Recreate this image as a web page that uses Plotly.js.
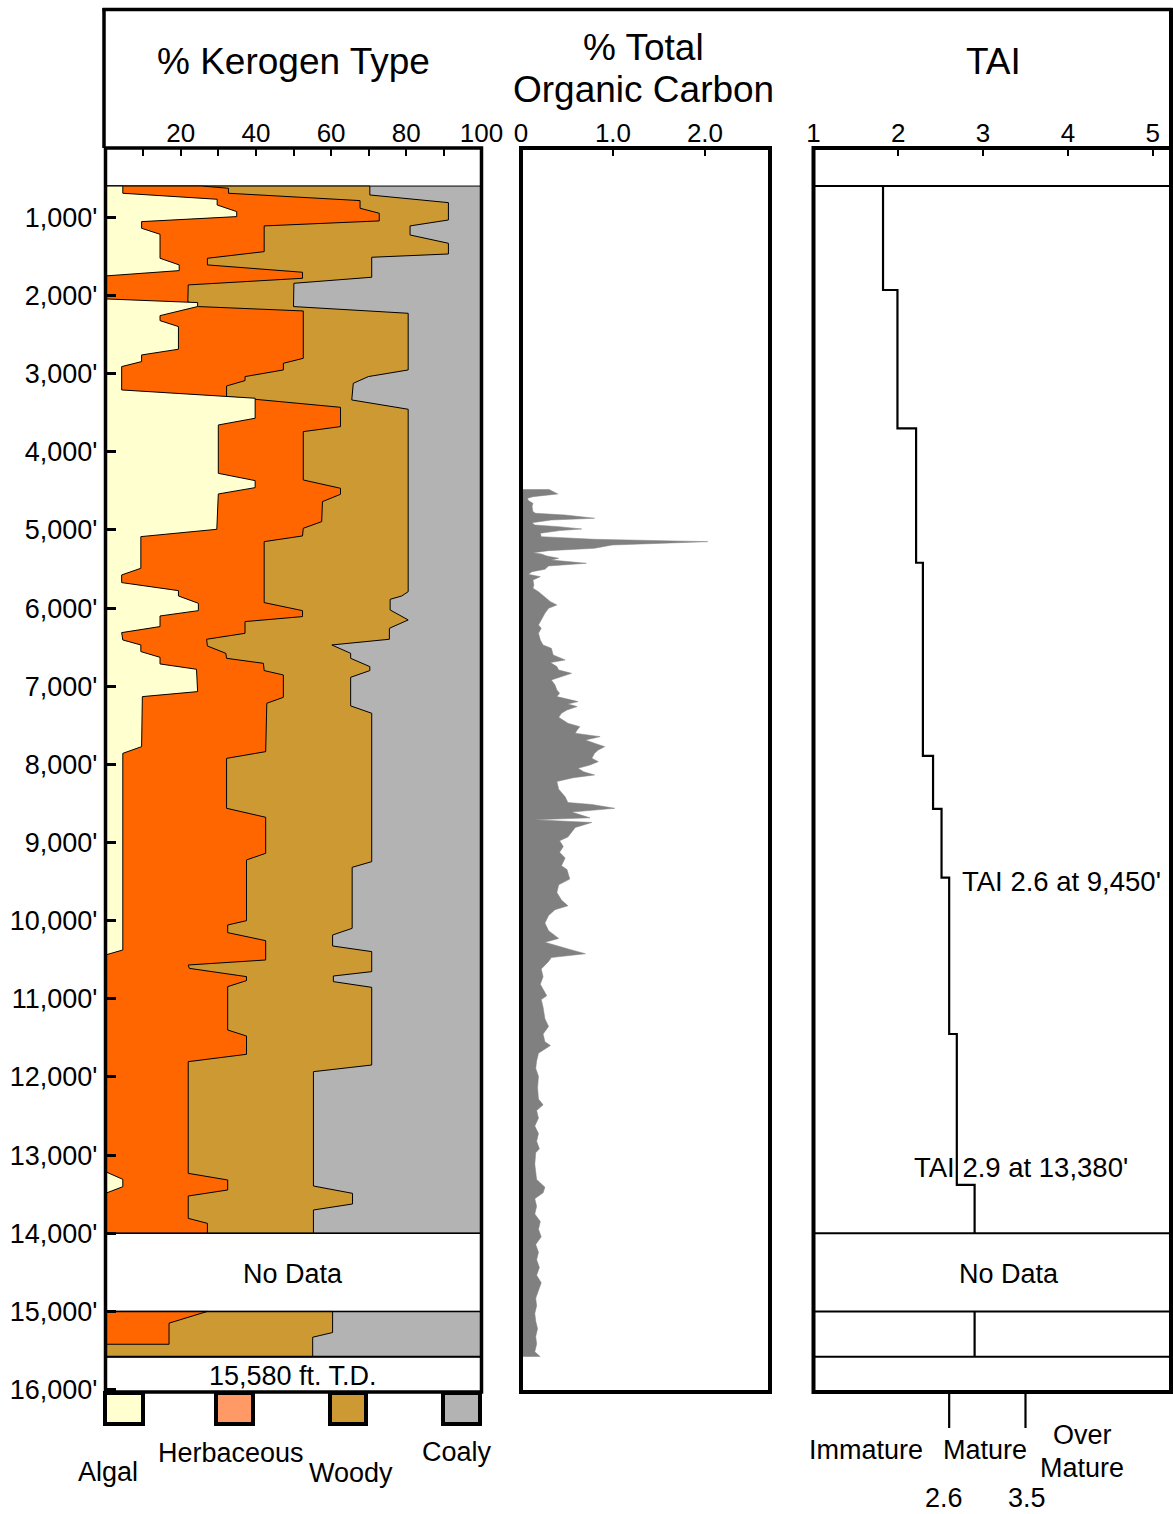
<!DOCTYPE html>
<html><head><meta charset="utf-8">
<script src="https://cdn.plot.ly/plotly-3.0.1.min.js"></script>
<style>html,body{margin:0;padding:0;background:#fff}#chart{width:1173px;height:1514px}</style>
</head><body><div id="chart"></div>
<script>
// ---------------- DATA ----------------
const depthTicks = [1000,2000,3000,4000,5000,6000,7000,8000,9000,10000,11000,12000,13000,14000,15000,16000];
const depthLabels = ["1,000'","2,000'","3,000'","4,000'","5,000'","6,000'","7,000'","8,000'","9,000'","10,000'","11,000'","12,000'","13,000'","14,000'","15,000'","16,000'"];
const dataTop = 600, noDataTop = 14000, noDataBottom = 15000, totalDepth = 15580;

// % Kerogen: boundary of Algal (cumulative 0 -> algal)
const algalDepth = [600,692,769,842,927,991,1055,1140,1217,1524,1609,1682,1750,2044,2091,2142,2258,2322,2398,2688,2761,2846,2910,3209,3315,3571,3657,4276,4369,4459,4540,4992,5086,5491,5576,5674,5777,5845,5939,6033,6101,6237,6314,6408,6472,6557,6630,6715,6783,7069,7133,7773,7859,10375,10439,13212,13310,13404,13489,14000];
const algalPct   = [4.6,4.6,29.7,29.7,34.9,34.9,9.6,9.6,14.5,14.5,19.6,19.6,0,0,24.5,24.5,14.5,14.5,19.4,19.4,9.6,9.6,4.3,4.3,39.8,39.8,30.0,30.0,39.8,39.8,30.0,29.6,9.4,9.4,4.3,4.3,19.4,19.4,24.7,24.7,14.5,14.5,4.3,4.6,9.4,9.4,14.5,14.5,24.2,24.5,9.8,9.6,4.6,4.6,0,0,4.6,4.6,0,0];

// cumulative Algal + Herbaceous
const herbCumDepth = [600,628,692,786,884,948,1046,1110,1439,1524,1609,1703,1780,1865,2079,2142,2198,2804,2868,2953,3038,3089,3158,3294,3431,3678,3742,4361,4467,4544,4638,4894,4979,5077,5150,5930,6033,6109,6173,6323,6399,6485,6579,6643,6707,6800,6856,7142,7218,7837,7923,8562,8677,9138,9223,10000,10055,10153,10256,10503,10567,10610,10716,10767,10844,11399,11476,11710,11804,13233,13318,13446,13523,13809,13873,14000];
const herbCumPct   = [25.6,32.7,32.7,67.7,67.7,72.8,72.8,42.2,42.2,27.1,27.1,52.4,52.4,22.0,21.9,24.7,52.6,52.6,47.3,47.3,37.1,37.1,32.2,32.2,62.5,62.5,52.6,52.6,62.5,62.5,57.7,57.5,52.6,52.4,42.2,42.2,52.4,52.4,37.1,37.1,26.9,27.1,32.0,32.2,42.0,42.2,47.3,47.3,42.9,42.6,32.2,32.2,42.6,42.6,37.5,37.5,32.5,32.5,42.6,42.6,22.0,22.3,37.5,37.5,32.5,32.5,37.5,37.5,22.0,22.0,32.5,32.5,22.0,22.0,27.1,27.1];

// cumulative Algal + Herbaceous + Woody (rest is Coaly)
const woodyCumDepth = [600,714,812,1034,1110,1226,1332,1469,1511,1767,1844,2142,2228,2953,3038,3124,3337,3456,5790,5845,5888,6024,6152,6259,6399,6472,6579,6643,6749,6800,6886,7252,7346,9245,9317,10098,10183,10324,10396,10652,10708,10780,10853,11847,11932,13395,13489,13625,13702,14000];
const woodyCumPct   = [70.3,70.3,91.2,91.2,81.0,81.0,91.2,91.2,70.8,70.8,50.1,50.0,80.5,80.5,69.9,65.9,65.5,80.5,80.5,78.8,75.7,75.7,80.5,75.5,75.5,60.2,65.2,65.2,70.3,70.3,65.2,65.2,70.8,70.8,65.6,65.6,60.4,60.4,70.8,70.8,60.6,60.6,70.8,70.8,55.3,55.3,65.7,65.7,55.3,55.3];

// lower interval (15,000' - T.D.)
const lowHerbCumDepth = [15000,15150,15420,15420];
const lowHerbCumPct   = [27.1,16.9,16.9,0];
const lowWoodyCumDepth = [15000,15270,15330,15580];
const lowWoodyCumPct   = [60.4,60.4,55.1,55.1];

// % Total Organic Carbon
const tocDepth = [4480,4540,4574,4596,4625,4660,4702,4766,4788,4809,4851,4873,4907,4937,4958,4988,5009,5043,5086,5120,5150,5171,5193,5235,5265,5291,5308,5333,5363,5385,5427,5461,5504,5534,5568,5598,5641,5704,5747,5790,5854,5918,5960,6003,6067,6152,6216,6259,6323,6408,6472,6515,6600,6664,6698,6749,6792,6835,6877,6920,6984,7048,7091,7133,7197,7227,7261,7304,7346,7398,7474,7517,7560,7602,7645,7688,7730,7773,7816,7858,7922,7965,8008,8050,8093,8136,8170,8219,8317,8415,8488,8513,8562,8611,8684,8709,8743,8807,8929,8978,9051,9125,9198,9296,9345,9468,9541,9639,9737,9810,9859,9933,10031,10129,10227,10276,10374,10423,10472,10521,10618,10716,10814,10961,11010,11108,11255,11353,11451,11549,11598,11696,11794,11892,11990,12137,12283,12357,12430,12528,12626,12724,12822,12920,12969,13116,13312,13410,13483,13557,13655,13753,13850,13948,14046,14144,14242,14340,14438,14536,14634,14732,14830,14928,15026,15124,15222,15320,15418,15516,15580];
const tocPct   = [0.30,0.40,0.13,0.07,0.08,0.13,0.12,0.13,0.16,0.48,0.80,0.33,0.12,0.15,0.41,0.66,0.42,0.21,0.22,0.80,2.03,1.38,0.99,0.80,0.30,0.13,0.22,0.28,0.41,0.33,0.71,0.30,0.26,0.12,0.08,0.21,0.13,0.14,0.13,0.19,0.26,0.32,0.39,0.30,0.26,0.22,0.19,0.22,0.19,0.21,0.24,0.33,0.35,0.48,0.32,0.39,0.41,0.55,0.44,0.33,0.37,0.39,0.42,0.39,0.62,0.51,0.61,0.50,0.44,0.41,0.51,0.64,0.61,0.59,0.86,0.70,0.80,0.91,0.84,0.80,0.77,0.84,0.75,0.62,0.68,0.80,0.57,0.39,0.41,0.48,0.51,0.77,1.02,0.55,0.75,0.15,0.77,0.59,0.51,0.42,0.46,0.42,0.48,0.44,0.50,0.53,0.41,0.39,0.44,0.51,0.37,0.30,0.26,0.30,0.41,0.26,0.55,0.70,0.33,0.30,0.22,0.24,0.21,0.28,0.22,0.24,0.26,0.30,0.24,0.26,0.32,0.19,0.17,0.16,0.19,0.18,0.19,0.24,0.17,0.19,0.15,0.19,0.17,0.20,0.16,0.15,0.17,0.26,0.24,0.15,0.17,0.15,0.21,0.19,0.22,0.16,0.19,0.17,0.20,0.17,0.22,0.19,0.16,0.17,0.15,0.16,0.18,0.16,0.17,0.15,0.21];

// TAI step profile
const taiTop   = [600,1930,3700,5420,7890,8570,9450,11450,13380];
const taiValue = [1.82,1.99,2.21,2.29,2.41,2.51,2.6,2.69,2.9];
const taiLowValue = 2.9;
const maturityBounds = [2.6, 3.5];

// ---------------- COLORS / GEOMETRY ----------------
const C = {algal:'#FFFFD0', herb:'#FF6600', herbKey:'#FF9966', woody:'#CC9933', coaly:'#B3B3B3', toc:'#808080'};
const W = 1173, H = 1514;
const fx = p => p / W, fy = p => 1 - p / H;
const FONT = 'Liberation Sans, Arial, Helvetica, sans-serif';

function poly(depths, pcts, color) {
  return {x:[0].concat(pcts, [0]), y:[depths[0]].concat(depths, [depths[depths.length-1]]),
    type:'scatter', mode:'lines', fill:'toself', fillcolor:color,
    line:{color:'#000', width:1}, xaxis:'x', yaxis:'y', hoverinfo:'skip', showlegend:false};
}
function rectTrace(d0, d1, color) {
  return {x:[0,100,100,0,0], y:[d0,d0,d1,d1,d0], type:'scatter', mode:'lines', fill:'toself',
    fillcolor:color, line:{color:'#000', width:1}, xaxis:'x', yaxis:'y', hoverinfo:'skip', showlegend:false};
}

const traces = [
  rectTrace(dataTop, noDataTop, C.coaly),
  poly(woodyCumDepth, woodyCumPct, C.woody),
  poly(herbCumDepth, herbCumPct, C.herb),
  poly(algalDepth, algalPct, C.algal),
  rectTrace(noDataBottom, totalDepth, C.coaly),
  poly(lowWoodyCumDepth, lowWoodyCumPct, C.woody),
  poly(lowHerbCumDepth, lowHerbCumPct, C.herb),
  {x:tocPct, y:tocDepth, type:'scatter', mode:'lines', fill:'tozerox', fillcolor:C.toc,
   line:{color:C.toc, width:0.5}, xaxis:'x2', yaxis:'y', hoverinfo:'skip', showlegend:false},
  {x:taiValue.concat([taiValue[taiValue.length-1]]), y:taiTop.concat([noDataTop]), type:'scatter', mode:'lines',
   line:{color:'#000', width:2.2, shape:'vh'}, xaxis:'x3', yaxis:'y', hoverinfo:'skip', showlegend:false},
  {x:[taiLowValue, taiLowValue], y:[noDataBottom, totalDepth], type:'scatter', mode:'lines',
   line:{color:'#000', width:2.2}, xaxis:'x3', yaxis:'y', hoverinfo:'skip', showlegend:false}
];

const axBase = {side:'top', anchor:'y', showgrid:false, zeroline:false, showline:false, ticks:'inside',
  ticklen:8, tickwidth:2, tickcolor:'#000', tickfont:{family:FONT, size:26, color:'#000'}, fixedrange:true};

const shapes = [];
function hline(xref, d, w) { shapes.push({type:'line', xref:xref, x0:0, x1:1, yref:'y', y0:d, y1:d, line:{color:'#000', width:w}}); }
// panel frames
shapes.push({type:'rect', xref:'x domain', x0:0, x1:1, yref:'y domain', y0:0, y1:1, line:{color:'#000', width:3.5}});
shapes.push({type:'rect', xref:'x2 domain', x0:0, x1:1, yref:'y domain', y0:0, y1:1, line:{color:'#000', width:4}});
shapes.push({type:'rect', xref:'x3 domain', x0:0, x1:1, yref:'y domain', y0:0, y1:1, line:{color:'#000', width:4}});
// header frame
shapes.push({type:'line', xref:'paper', yref:'paper', x0:fx(104), x1:fx(104), y0:fy(148), y1:fy(8), line:{color:'#000', width:3.5}});
shapes.push({type:'line', xref:'paper', yref:'paper', x0:fx(102.5), x1:fx(1172.5), y0:fy(9.5), y1:fy(9.5), line:{color:'#000', width:3.5}});
shapes.push({type:'line', xref:'paper', yref:'paper', x0:fx(1171), x1:fx(1171), y0:fy(148), y1:fy(8), line:{color:'#000', width:4}});
// kerogen interval lines
hline('x domain', noDataTop, 1.5); hline('x domain', noDataBottom, 1.5); hline('x domain', totalDepth, 2);
// TAI interval lines
hline('x3 domain', dataTop, 2); hline('x3 domain', noDataTop, 2); hline('x3 domain', noDataBottom, 2); hline('x3 domain', totalDepth, 2);
// maturity ticks under TAI
maturityBounds.forEach(v => shapes.push({type:'line', xref:'x3', x0:v, x1:v, yref:'paper', y0:fy(1392), y1:fy(1428), line:{color:'#000', width:2.2}}));
// kerogen key boxes
[[105,143,C.algal],[216,253,C.herbKey],[330,366,C.woody],[443,480,C.coaly]].forEach(b =>
  shapes.push({type:'rect', xref:'paper', yref:'paper', x0:fx(b[0]), x1:fx(b[1]), y0:fy(1424), y1:fy(1393), fillcolor:b[2], line:{color:'#000', width:4}}));

const annotations = [];
function txt(t, x, y, size, xanchor) {
  annotations.push({text:t, xref:'paper', yref:'paper', x:fx(x), y:fy(y), xanchor:xanchor||'center', yanchor:'middle',
    showarrow:false, font:{family:FONT, size:size, color:'#000'}});
}
txt('% Kerogen Type', 293, 61, 37);
txt('% Total', 643, 47, 37);
txt('Organic Carbon', 643, 89, 37);
txt('TAI', 993, 61, 37);
txt('No Data', 293, 1274, 27);
txt('15,580 ft. T.D.', 293, 1376, 27);
txt('No Data', 1009, 1274, 27);
txt("TAI 2.6 at 9,450'", 960, 882, 27.5, 'left');
txt("TAI 2.9 at 13,380'", 912, 1167, 27.5, 'left');
txt('Algal', 108, 1472, 27);
txt('Herbaceous', 231, 1453, 27);
txt('Woody', 351, 1473, 27);
txt('Coaly', 457, 1452, 27);
txt('Immature', 866, 1450, 27);
txt('Mature', 985, 1450, 27);
txt('Over', 1082, 1435, 27);
txt('Mature', 1082, 1468, 27);
txt('2.6', 944, 1498, 27);
txt('3.5', 1027, 1498, 27);

const layout = {
  width:W, height:H, margin:{l:0, r:0, t:0, b:0}, paper_bgcolor:'#fff', plot_bgcolor:'rgba(0,0,0,0)',
  showlegend:false, font:{family:FONT, color:'#000'},
  xaxis: Object.assign({}, axBase, {domain:[fx(105.5), fx(481.5)], range:[0,100], tickvals:[20,40,60,80,100],
    minor:{tickvals:[10,30,50,70,90], ticks:'inside', ticklen:8, tickwidth:2, tickcolor:'#000', showgrid:false}}),
  xaxis2: Object.assign({}, axBase, {domain:[fx(521), fx(770)], range:[0,2.707], tickvals:[0,1,2], ticktext:['0','1.0','2.0']}),
  xaxis3: Object.assign({}, axBase, {domain:[fx(813.5), fx(1171)], range:[1,5.216], tickvals:[1,2,3,4,5]}),
  yaxis: {domain:[fy(1392), fy(148)], range:[16031,113], anchor:'x', tickvals:depthTicks, ticktext:depthLabels,
    ticks:'inside', ticklen:10, tickwidth:3, tickcolor:'#000', showgrid:false, zeroline:false, showline:false,
    ticklabelstandoff:7, tickfont:{family:FONT, size:27, color:'#000'}, fixedrange:true},
  shapes:shapes, annotations:annotations
};
Plotly.newPlot('chart', traces, layout, {staticPlot:true});
</script></body></html>
